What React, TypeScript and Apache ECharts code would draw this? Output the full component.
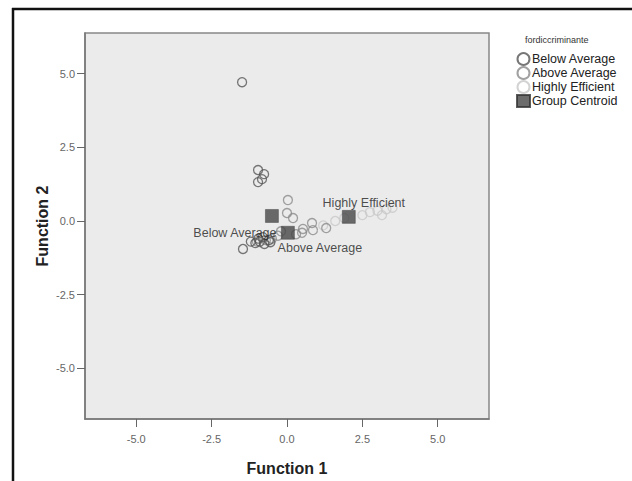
import React, { useEffect, useRef } from "react";
import * as echarts from "echarts";

const xTicks = [-5, -2.5, 0, 2.5, 5];
const yTicks = [-5, -2.5, 0, 2.5, 5];
const legendTitle = "fordiccriminante";
const groups = ["Below Average", "Above Average", "Highly Efficient"];

const belowAverage: [number, number][] = [
  [-1.49, 4.71], [-0.96, 1.73], [-0.76, 1.59], [-0.96, 1.32], [-0.83, 1.42],
  [-1.46, -0.95], [-1.2, -0.7], [-1.05, -0.75], [-0.9, -0.7], [-0.75, -0.78],
  [-0.6, -0.65], [-0.95, -0.6], [-0.8, -0.55], [-0.55, -0.72],
];
const aboveAverage: [number, number][] = [
  [0.03, 0.71], [0.0, 0.27], [0.2, 0.1], [0.83, -0.07], [0.86, -0.31],
  [0.53, -0.27], [0.5, -0.4], [1.3, -0.24], [-0.5, -0.6], [-0.3, -0.5],
  [-0.7, -0.65], [-0.2, -0.35], [0.3, -0.45], [-1.0, -0.7],
];
const highlyEfficient: [number, number][] = [
  [2.75, 0.3], [3.0, 0.35], [3.15, 0.2], [3.3, 0.4], [3.5, 0.45],
  [2.5, 0.2], [1.6, 0.0], [1.9, 0.1], [1.2, -0.15], [-0.9, -0.72], [-0.6, -0.68],
];
const centroidX = [-0.5, 0.03, 2.05];
const centroidY = [0.17, -0.4, 0.14];

const labelOffsets: Record<string, [number, number]> = {
  "Below Average": [-37, 17],
  "Above Average": [32, 15],
  "Highly Efficient": [15, -14],
};
const groupColors = ["#555555", "#8a8a8a", "#c8c8c8"];
const FONT = "'Liberation Sans', Arial, sans-serif";

export default function App() {
  const ref = useRef<HTMLDivElement>(null);
  useEffect(() => {
    const chart = echarts.init(ref.current!, null, { renderer: "svg" });
    const pointSeries = [belowAverage, aboveAverage, highlyEfficient].map((d, i) => ({
      name: groups[i],
      type: "scatter",
      data: d,
      symbol: "circle",
      symbolSize: 9,
      itemStyle: { color: "rgba(0,0,0,0)", borderColor: groupColors[i], borderWidth: 1.3 },
      emphasis: { disabled: true },
      z: 3 - i,
    }));
    chart.setOption({
      animation: false,
      textStyle: { fontFamily: FONT },
      grid: {
        left: 85, top: 33, width: 404, height: 386,
        show: true, backgroundColor: "#ebebeb", borderColor: "#888", borderWidth: 1.5,
      },
      xAxis: {
        type: "value", min: -6.7, max: 6.7,
        splitLine: { show: false },
        axisLine: { show: true, onZero: false, lineStyle: { color: "#777", width: 1.5 } },
        axisTick: { show: true, customValues: xTicks, length: 8, lineStyle: { color: "#666" } },
        axisLabel: {
          customValues: xTicks, formatter: (v: number) => v.toFixed(1),
          color: "#666", fontSize: 11, margin: 14, fontFamily: FONT,
        },
        name: "Function 1", nameLocation: "middle", nameGap: 41, nameMoveOverlap: false,
        nameTextStyle: { fontSize: 16, fontWeight: "bold", color: "#222", fontFamily: FONT },
      },
      yAxis: {
        type: "value", min: -6.72, max: 6.38,
        splitLine: { show: false },
        axisLine: { show: true, onZero: false, lineStyle: { color: "#777", width: 1.5 } },
        axisTick: { show: true, customValues: yTicks, length: 8, lineStyle: { color: "#666" } },
        axisLabel: {
          customValues: yTicks, formatter: (v: number) => v.toFixed(1),
          color: "#666", fontSize: 11, margin: 10, fontFamily: FONT,
        },
        name: "Function 2", nameLocation: "middle", nameGap: 35, nameMoveOverlap: false,
        nameTextStyle: { fontSize: 16, fontWeight: "bold", color: "#222", fontFamily: FONT },
      },
      legend: {
        orient: "vertical", left: 516, top: 52,
        itemWidth: 13, itemHeight: 12, itemGap: 0, padding: 0,
        selectedMode: false,
        data: [...groups, "Group Centroid"],
        textStyle: { fontSize: 12.5, lineHeight: 13.5, color: "#222", fontFamily: FONT, padding: [0, 0, 0, -3] },
      },
      series: [
        ...pointSeries,
        {
          name: "Group Centroid",
          type: "scatter",
          symbol: "rect",
          symbolSize: 13,
          z: 10,
          itemStyle: { color: "#474747", borderColor: "#333", borderWidth: 0.5 },
          emphasis: { disabled: true },
          data: groups.map((g, i) => ({
            name: g,
            value: [centroidX[i], centroidY[i]],
            label: {
              show: true, position: "inside", offset: labelOffsets[g],
              formatter: (p: any) => p.name, color: "#222", fontSize: 12.5, fontFamily: FONT,
            },
          })),
        },
      ],
      graphic: [
        {
          type: "text", left: 525, top: 35,
          style: { text: legendTitle, fontSize: 9, fill: "#333", fontFamily: FONT },
        },
        { type: "line", shape: { x1: 13, y1: 8, x2: 13, y2: 481 }, style: { stroke: "#111", lineWidth: 2.5 } },
        { type: "line", shape: { x1: 12, y1: 9, x2: 632, y2: 9 }, style: { stroke: "#111", lineWidth: 2.5 } },
      ],
    });
    return () => chart.dispose();
  }, []);
  return (
    <div
      ref={ref}
      style={{ position: "fixed", left: 0, top: 0, width: 632, height: 481, background: "#fff" }}
    />
  );
}
